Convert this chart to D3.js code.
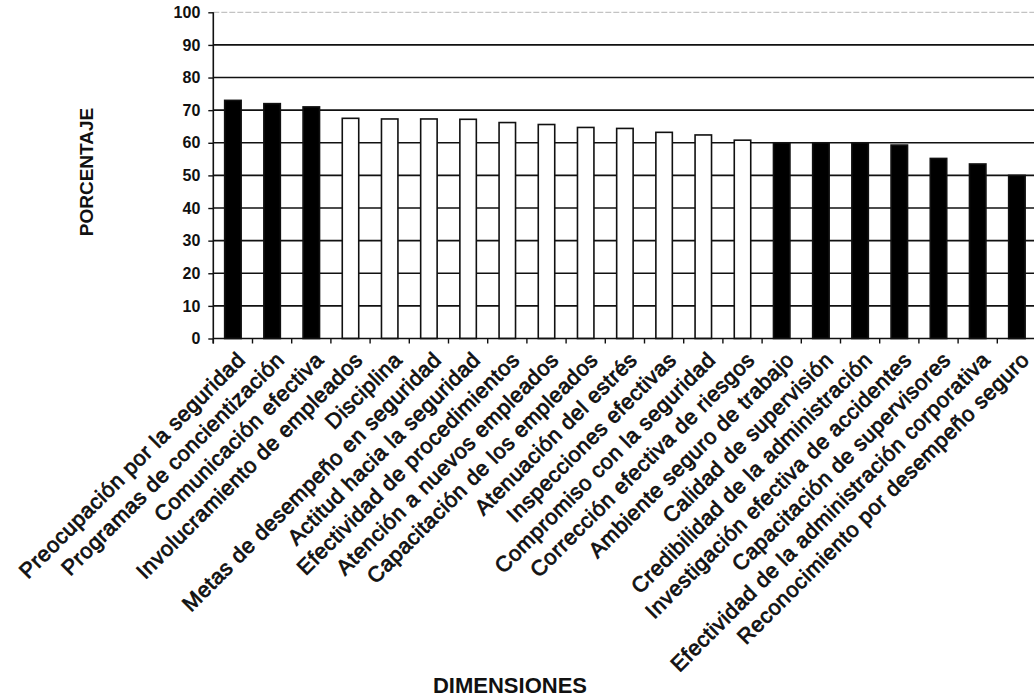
<!DOCTYPE html>
<html>
<head>
<meta charset="utf-8">
<script src="https://cdn.jsdelivr.net/npm/d3@7"></script>
<style>
  html, body { margin: 0; padding: 0; background: #fff; }
  svg { display: block; }
  text { font-family: "Liberation Sans", Arial, sans-serif; fill: #111; }
</style>
</head>
<body>
<svg id="chart" width="1034" height="700"></svg>
<script>
// Dimensiones evaluadas (en orden de aparición)
const dimensiones = [
  "Preocupación por la seguridad",
  "Programas de concientización",
  "Comunicación efectiva",
  "Involucramiento de empleados",
  "Disciplina",
  "Metas de desempeño en seguridad",
  "Actitud hacia la seguridad",
  "Efectividad de procedimientos",
  "Atención a nuevos empleados",
  "Capacitación de los empleados",
  "Atenuación del estrés",
  "Inspecciones efectivas",
  "Compromiso con la seguridad",
  "Corrección efectiva de riesgos",
  "Ambiente seguro de trabajo",
  "Calidad de supervisión",
  "Credibilidad de la administración",
  "Investigación efectiva de accidentes",
  "Capacitación de supervisores",
  "Efectividad de la administración corporativa",
  "Reconocimiento por desempeño seguro"
];

// Porcentaje obtenido por cada dimensión
const porcentajes = [73, 72, 71, 67.5, 67.3, 67.3, 67.2, 66.2, 65.6, 64.7, 64.4,
                     63.2, 62.4, 60.8, 60, 60, 60, 59.3, 55.2, 53.5, 50];

// Grupo de cada dimensión: barras sólidas ("extremo") o huecas ("intermedio")
const grupos = ["extremo", "extremo", "extremo",
                "intermedio", "intermedio", "intermedio", "intermedio", "intermedio",
                "intermedio", "intermedio", "intermedio", "intermedio", "intermedio",
                "intermedio", "extremo", "extremo", "extremo", "extremo", "extremo",
                "extremo", "extremo"];

// Marcas del eje vertical
const ticksY = [0, 10, 20, 30, 40, 50, 60, 70, 80, 90, 100];

const datos = dimensiones.map((d, i) => ({ nombre: d, valor: porcentajes[i], grupo: grupos[i] }));

const svg = d3.select("#chart");
const margen = { izq: 213.3, der: 1036.5, sup: 12.3, inf: 338.5 };

const x = d3.scaleBand()
  .domain(dimensiones)
  .range([margen.izq, margen.der])
  .paddingInner(0.58)
  .paddingOuter(0.29);

const y = d3.scaleLinear().domain([0, 100]).range([margen.inf, margen.sup]);

const relleno = d3.scaleOrdinal().domain(["extremo", "intermedio"]).range(["#000", "#fff"]);

// Línea superior del área de trazado (tenue)
svg.append("line")
  .attr("x1", margen.izq).attr("x2", 1034)
  .attr("y1", y(100)).attr("y2", y(100))
  .attr("stroke", "#b5b5b5").attr("stroke-width", 1)
  .attr("stroke-dasharray", "6,2");

// Líneas de división horizontales
svg.append("g")
  .selectAll("line")
  .data(ticksY.filter(t => t > 0 && t < 100))
  .join("line")
  .attr("x1", margen.izq).attr("x2", 1034)
  .attr("y1", d => y(d)).attr("y2", d => y(d))
  .attr("stroke", "#111").attr("stroke-width", 1.6);

// Barras
svg.append("g")
  .selectAll("rect")
  .data(datos)
  .join("rect")
  .attr("x", d => x(d.nombre))
  .attr("width", x.bandwidth())
  .attr("y", d => y(d.valor))
  .attr("height", d => y(0) - y(d.valor))
  .attr("fill", d => relleno(d.grupo))
  .attr("stroke", "#111")
  .attr("stroke-width", 1.6);

// Eje vertical
const ejeY = svg.append("g")
  .attr("transform", `translate(${margen.izq},0)`)
  .call(d3.axisLeft(y).tickValues(ticksY).tickSize(5).tickPadding(8));
ejeY.select(".domain").attr("stroke", "#111").attr("stroke-width", 1.6)
  .attr("d", `M0,${margen.sup}V${margen.inf + 5}`);
ejeY.selectAll(".tick line").attr("stroke", "#111").attr("stroke-width", 1.4);
ejeY.selectAll(".tick text")
  .attr("font-family", "Liberation Sans, Arial, sans-serif")
  .attr("font-size", 16).attr("font-weight", "bold").attr("fill", "#111");

// Eje horizontal: marcas en los límites de cada categoría
const limites = d3.range(dimensiones.length + 1).map(i => margen.izq + i * x.step());
const ejeX = svg.append("g");
ejeX.append("line")
  .attr("x1", margen.izq).attr("x2", 1034)
  .attr("y1", margen.inf).attr("y2", margen.inf)
  .attr("stroke", "#111").attr("stroke-width", 1.6);
ejeX.selectAll("line.marca")
  .data(limites)
  .join("line")
  .attr("class", "marca")
  .attr("x1", d => d).attr("x2", d => d)
  .attr("y1", margen.inf).attr("y2", margen.inf + 5)
  .attr("stroke", "#111").attr("stroke-width", 1.4);

// Etiquetas de categoría giradas (trazo fino para dar algo más de peso)
ejeX.selectAll("text")
  .data(datos)
  .join("text")
  .attr("transform", d => `translate(${x(d.nombre) + x.bandwidth() / 2 + 3},${margen.inf + 12}) rotate(-45)`)
  .attr("text-anchor", "end")
  .attr("dy", "0.7em")
  .attr("font-size", 21.5)
  .attr("letter-spacing", 0.6)
  .attr("stroke", "#111")
  .attr("stroke-width", 0.8)
  .text(d => d.nombre);

// Títulos de los ejes
svg.append("text")
  .attr("transform", `translate(93,172) rotate(-90)`)
  .attr("text-anchor", "middle")
  .attr("font-size", 19)
  .attr("font-weight", "bold")
  .text("PORCENTAJE");

svg.append("text")
  .attr("x", 510).attr("y", 693)
  .attr("text-anchor", "middle")
  .attr("font-size", 22)
  .attr("font-weight", "bold")
  .text("DIMENSIONES");
</script>
</body>
</html>
